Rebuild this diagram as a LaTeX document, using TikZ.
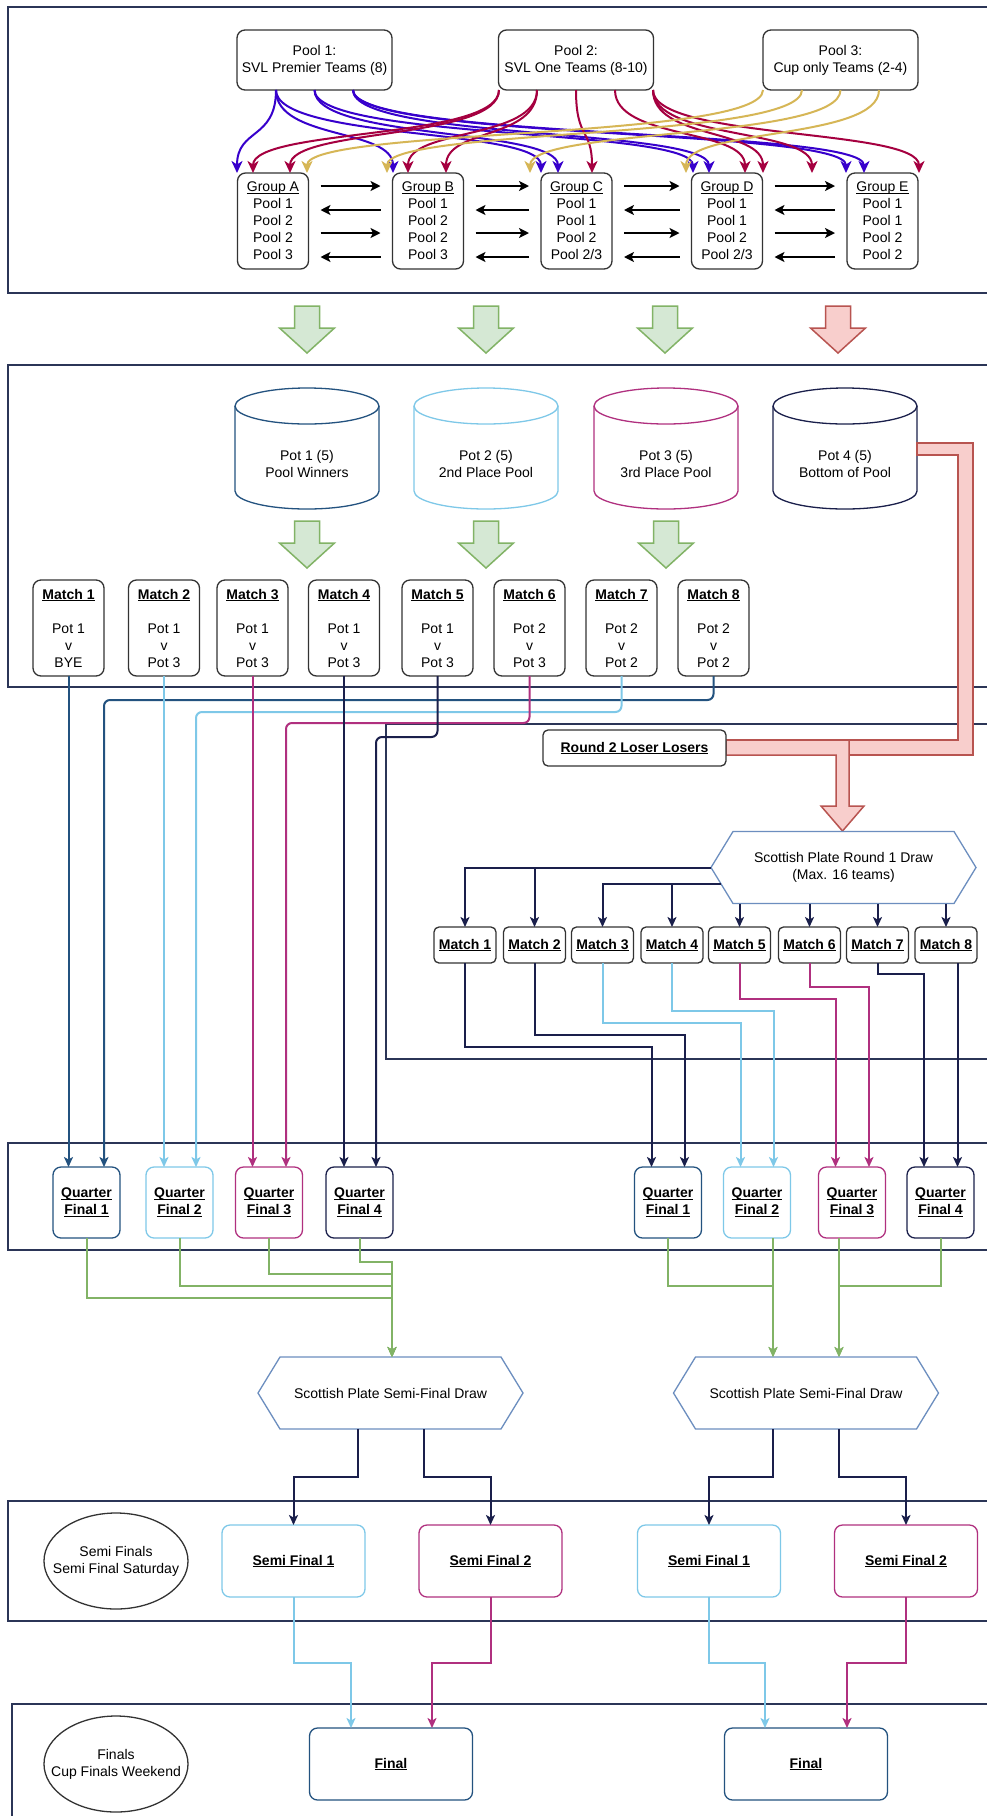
\documentclass[tikz,border=0pt]{standalone}
\usepackage{fontspec}
\setmainfont{Liberation Sans}
\usetikzlibrary{arrows.meta,calc,shapes.geometric}
\definecolor{cblue}{HTML}{3700CC}
\definecolor{cred}{HTML}{A50040}
\definecolor{cgold}{HTML}{D6B656}
\definecolor{dkblue}{HTML}{23527F}
\definecolor{ltblue}{HTML}{7EC8E8}
\definecolor{magen}{HTML}{B0307F}
\definecolor{navy}{HTML}{1A1F4B}
\definecolor{framec}{HTML}{2B3557}
\definecolor{gfill}{HTML}{D5E8D4}
\definecolor{gline}{HTML}{82B366}
\definecolor{rfill}{HTML}{F8CECC}
\definecolor{rline}{HTML}{B85450}
\definecolor{hexc}{HTML}{6C8EBF}
\definecolor{boxc}{HTML}{333333}
\newcommand\ulx[1]{\underline{\smash{#1}}\vphantom{#1}}
\begin{document}
\begin{tikzpicture}[x=1pt,y=-1pt,
  every node/.style={font=\fontsize{14}{17}\selectfont, align=center, inner sep=0pt, outer sep=0pt, text=black},
  box/.style={draw=boxc, line width=1.3pt, rounded corners=8pt, fill=white},
  pool/.style={box, minimum width=155pt, minimum height=60pt},
  grp/.style={box, minimum width=71pt, minimum height=96pt},
  umatch/.style={box, minimum width=71pt, minimum height=96pt},
  pmatch/.style={box, minimum width=62pt, minimum height=36pt, rounded corners=5pt},
  qf/.style={box, minimum width=67pt, minimum height=71pt},
  sfbox/.style={box, minimum width=143pt, minimum height=72pt},
  finbox/.style={box, draw=dkblue, minimum width=163pt, minimum height=72pt},
  hexnode/.style={minimum width=265pt, minimum height=72pt},
  hexline/.style={draw=hexc, line width=1.3pt, fill=white},
  circ/.style={ellipse, draw=boxc, line width=1.3pt, minimum width=144pt, minimum height=96pt},
  frame/.style={draw=framec, line width=1.3pt},
  curve/.style={line width=2pt, -{Stealth[length=12pt,width=11pt,inset=3.5pt]}},
  harr/.style={line width=2pt, -{Stealth[length=10pt,width=10pt,inset=2.5pt]}},
  conn/.style={line width=2pt, -{Stealth[length=10pt,width=9pt,inset=2.5pt]}},
  gconn/.style={conn, draw=gline},
  garrow/.style={draw=gline, fill=gfill, line width=1.5pt},
  rarrow/.style={draw=rline, fill=rfill, line width=1.5pt},
  blk/.pic={\path[pic actions] (-12.5,0) -- (12.5,0) -- (12.5,22) -- (27.5,22) -- (0,47) -- (-27.5,22) -- (-12.5,22) -- cycle;},
  cyl/.pic={\path[pic actions] (-72,18) -- (-72,103) arc[start angle=180,end angle=360,x radius=72pt,y radius=18pt] -- (72,18) arc[start angle=0,end angle=180,x radius=72pt,y radius=18pt] -- cycle;
            \path[pic actions] (72,18) arc[start angle=0,end angle=-180,x radius=72pt,y radius=18pt];}
]
\path[use as bounding box] (0,0) rectangle (987,1816);
\clip (0,0) rectangle (987,1816);
\fill[white] (0,0) rectangle (987,1816);

% ---------- frames ----------
\draw[frame] (8,7) rectangle (1000,293);
\draw[frame] (8,365) rectangle (1000,687);
\draw[frame] (386,724) rectangle (1000,1059);
\draw[frame] (8,1143) rectangle (1000,1250);
\draw[frame] (8,1501) rectangle (1000,1621);
\draw[frame] (12,1704) rectangle (1000,1840);

% ---------- top section ----------
\node[pool] (p1) at (314.5,60) {Pool 1:\\SVL Premier Teams (8)};
\node[pool] (p2) at (576,60) {Pool 2:\\SVL One Teams (8-10)};
\node[pool] (p3) at (840.5,60) {Pool 3:\\Cup only Teams (2-4)};

\node[grp] (ga) at (273,221) {\ulx{Group A}\\Pool 1\\Pool 2\\Pool 2\\Pool 3};
\node[grp] (gb) at (428,221) {\ulx{Group B}\\Pool 1\\Pool 2\\Pool 2\\Pool 3};
\node[grp] (gc) at (576.5,221) {\ulx{Group C}\\Pool 1\\Pool 1\\Pool 2\\Pool 2/3};
\node[grp] (gd) at (727,221) {\ulx{Group D}\\Pool 1\\Pool 1\\Pool 2\\Pool 2/3};
\node[grp] (ge) at (882.5,221) {\ulx{Group E}\\Pool 1\\Pool 1\\Pool 2\\Pool 2};

\foreach \c/\s/\sx/\t/\tx in {
  cblue/p1/-38.5/ga/-36, cblue/p1/-38.5/gb/-35, cblue/p1/-38.5/gc/-35.5,
  cblue/p1/0/gc/-18.5, cblue/p1/0/gd/-34,
  cblue/p1/38.5/gd/-18, cblue/p1/38.5/ge/-36.5, cblue/p1/38.5/ge/-18.5,
  cred/p2/-77/ga/-20, cred/p2/-77/ga/17, cred/p2/-39/gb/-20, cred/p2/-39/gb/18,
  cred/p2/0/gc/15.5, cred/p2/39/gd/18, cred/p2/77/gd/36, cred/p2/77/gd/85, cred/p2/77/ge/36.5,
  cgold/p3/-77.5/ga/34, cgold/p3/-38.5/gb/-41, cgold/p3/0/gc/-46.5, cgold/p3/38.5/gd/-41}
  \draw[curve, draw=\c, \c] ([xshift=\sx]\s.south) .. controls +(0,50) and +(0,-45) .. ([xshift=\tx]\t.north);

\foreach \l/\r in {ga/gb, gb/gc, gc/gd, gd/ge} {
  \draw[harr] ($(\l.north east)+(12,13)$) -- ($(\r.north west)+(-12,13)$);
  \draw[harr] ($(\r.north west)+(-12,37)$) -- ($(\l.north east)+(12,37)$);
  \draw[harr] ($(\l.north east)+(12,60)$) -- ($(\r.north west)+(-12,60)$);
  \draw[harr] ($(\r.north west)+(-12,84)$) -- ($(\l.north east)+(12,84)$);
}

% ---------- block arrows ----------
\pic[garrow] at (307,306) {blk};
\pic[garrow] at (486,306) {blk};
\pic[garrow] at (665,306) {blk};
\pic[rarrow] at (838,306) {blk};
\pic[garrow] at (307,521) {blk};
\pic[garrow] at (486,521) {blk};
\pic[garrow] at (666,521) {blk};

% ---------- pots ----------
\pic[draw=dkblue, fill=white, line width=1.3pt] at (307,388) {cyl};
\pic[draw=ltblue, fill=white, line width=1.3pt] at (486,388) {cyl};
\pic[draw=magen, fill=white, line width=1.3pt] at (666,388) {cyl};
\pic[draw=navy, fill=white, line width=1.3pt] at (845,388) {cyl};
\node (pot1) at (307,464) {Pot 1 (5)\\Pool Winners};
\node (pot2) at (486,464) {Pot 2 (5)\\2nd Place Pool};
\node (pot3) at (666,464) {Pot 3 (5)\\3rd Place Pool};
\node (pot4) at (845,464) {Pot 4 (5)\\Bottom of Pool};

% ---------- red pipe ----------
\path[rarrow] (917,443) -- (973,443) -- (973,755) -- (726,755) -- (726,740) -- (958,740) -- (958,455) -- (917,455) -- cycle;
\path[rarrow] (726,740) -- (849,740) -- (849,806) -- (864,806) -- (842.5,831) -- (821,806) -- (836,806) -- (836,755) -- (726,755) -- cycle;

% ---------- upper matches ----------
\node[umatch] (um1) at (68.5,628) {\textbf{\ulx{Match 1}}\\~\\Pot 1\\v\\BYE};
\node[umatch] (um2) at (164,628) {\textbf{\ulx{Match 2}}\\~\\Pot 1\\v\\Pot 3};
\node[umatch] (um3) at (252.5,628) {\textbf{\ulx{Match 3}}\\~\\Pot 1\\v\\Pot 3};
\node[umatch] (um4) at (344,628) {\textbf{\ulx{Match 4}}\\~\\Pot 1\\v\\Pot 3};
\node[umatch] (um5) at (437.5,628) {\textbf{\ulx{Match 5}}\\~\\Pot 1\\v\\Pot 3};
\node[umatch] (um6) at (529.5,628) {\textbf{\ulx{Match 6}}\\~\\Pot 2\\v\\Pot 3};
\node[umatch] (um7) at (621.5,628) {\textbf{\ulx{Match 7}}\\~\\Pot 2\\v\\Pot 2};
\node[umatch] (um8) at (713.5,628) {\textbf{\ulx{Match 8}}\\~\\Pot 2\\v\\Pot 2};

% ---------- plate round 1 ----------
\node[box, minimum width=183pt, minimum height=36pt, rounded corners=5pt] (r2) at (634.5,748) {\textbf{\ulx{Round 2 Loser Losers}}};
\node[hexnode] (hex1) at (843.5,867.5) {};
\draw[hexline] ([xshift=22]hex1.north west) -- ([xshift=-22]hex1.north east) -- (hex1.east) -- ([xshift=-22]hex1.south east) -- ([xshift=22]hex1.south west) -- (hex1.west) -- cycle;
\node (hex1text) at (hex1) {Scottish Plate Round 1 Draw\\(Max. 16 teams)};

\node[pmatch] (pm1) at (465,945) {\textbf{\ulx{Match 1}}};
\node[pmatch] (pm2) at (534.5,945) {\textbf{\ulx{Match 2}}};
\node[pmatch] (pm3) at (602.5,945) {\textbf{\ulx{Match 3}}};
\node[pmatch] (pm4) at (672,945) {\textbf{\ulx{Match 4}}};
\node[pmatch] (pm5) at (739.5,945) {\textbf{\ulx{Match 5}}};
\node[pmatch] (pm6) at (809.5,945) {\textbf{\ulx{Match 6}}};
\node[pmatch] (pm7) at (877.5,945) {\textbf{\ulx{Match 7}}};
\node[pmatch] (pm8) at (946,945) {\textbf{\ulx{Match 8}}};

\coordinate (h2) at ($(hex1.west)+(10,16.5)$);
\draw[conn, navy] (hex1.west) -| (pm1.north);
\draw[conn, navy] (hex1.west -| pm2) -- (pm2.north);
\draw[conn, navy] (h2) -| (pm3.north);
\draw[conn, navy] (h2 -| pm4) -- (pm4.north);
\foreach \m in {pm5,pm6,pm7,pm8}
  \draw[conn, navy] (\m |- hex1.south) -- (\m.north);

% ---------- quarter finals ----------
\node[qf, draw=dkblue] (ql1) at (86.5,1202.5) {\textbf{\ulx{Quarter}}\\\textbf{\ulx{Final 1}}};
\node[qf, draw=ltblue] (ql2) at (179.5,1202.5) {\textbf{\ulx{Quarter}}\\\textbf{\ulx{Final 2}}};
\node[qf, draw=magen] (ql3) at (269,1202.5) {\textbf{\ulx{Quarter}}\\\textbf{\ulx{Final 3}}};
\node[qf, draw=navy] (ql4) at (359.5,1202.5) {\textbf{\ulx{Quarter}}\\\textbf{\ulx{Final 4}}};
\node[qf, draw=dkblue] (qr1) at (668,1202.5) {\textbf{\ulx{Quarter}}\\\textbf{\ulx{Final 1}}};
\node[qf, draw=ltblue] (qr2) at (757,1202.5) {\textbf{\ulx{Quarter}}\\\textbf{\ulx{Final 2}}};
\node[qf, draw=magen] (qr3) at (852,1202.5) {\textbf{\ulx{Quarter}}\\\textbf{\ulx{Final 3}}};
\node[qf, draw=navy] (qr4) at (940.5,1202.5) {\textbf{\ulx{Quarter}}\\\textbf{\ulx{Final 4}}};

\begin{scope}[rounded corners=6pt]
\draw[conn, dkblue] (um1.south) -- (um1.south |- ql1.north);
\draw[conn, dkblue] (um8.south) -- ++(0,24) -| ([xshift=17.5]ql1.north);
\draw[conn, ltblue] (um2.south) -- (um2.south |- ql2.north);
\draw[conn, ltblue] (um7.south) -- ++(0,36) -| ([xshift=16.5]ql2.north);
\draw[conn, magen] (um3.south) -- (um3.south |- ql3.north);
\draw[conn, magen] (um6.south) -- ++(0,47) -| ([xshift=17]ql3.north);
\draw[conn, navy] (um4.south) -- (um4.south |- ql4.north);
\draw[conn, navy] (um5.south) -- ++(0,61) -| ([xshift=16.5]ql4.north);
\end{scope}

\draw[conn, navy] (pm1.south) -- ++(0,84) -| ([xshift=-16.5]qr1.north);
\draw[conn, navy] (pm2.south) -- ++(0,72) -| ([xshift=16.5]qr1.north);
\draw[conn, ltblue] (pm3.south) -- ++(0,60) -| ([xshift=-16.5]qr2.north);
\draw[conn, ltblue] (pm4.south) -- ++(0,48) -| ([xshift=16.5]qr2.north);
\draw[conn, magen] (pm5.south) -- ++(0,36) -| ([xshift=-16.5]qr3.north);
\draw[conn, magen] (pm6.south) -- ++(0,24) -| ([xshift=17]qr3.north);
\draw[conn, navy] (pm7.south) -- ++(0,11) -| ([xshift=-16.5]qr4.north);
\draw[conn, navy] ([xshift=11.5]pm8.south) -- ([xshift=17]qr4.north);

% ---------- semi-final draws ----------
\node[hexnode] (hexL) at (390.5,1393) {};
\draw[hexline] ([xshift=22]hexL.north west) -- ([xshift=-22]hexL.north east) -- (hexL.east) -- ([xshift=-22]hexL.south east) -- ([xshift=22]hexL.south west) -- (hexL.west) -- cycle;
\node (hexLtext) at (hexL) {Scottish Plate Semi-Final Draw};
\node[hexnode] (hexR) at (806,1393) {};
\draw[hexline] ([xshift=22]hexR.north west) -- ([xshift=-22]hexR.north east) -- (hexR.east) -- ([xshift=-22]hexR.south east) -- ([xshift=22]hexR.south west) -- (hexR.west) -- cycle;
\node (hexRtext) at (hexR) {Scottish Plate Semi-Final Draw};

\draw[gconn] (ql4.south) -- ++(0,24) -| ([xshift=1.5]hexL.north);
\draw[gconn] (ql3.south) -- ++(0,36) -| ([xshift=1.5]hexL.north);
\draw[gconn] (ql2.south) -- ++(0,48) -| ([xshift=1.5]hexL.north);
\draw[gconn] (ql1.south) -- ++(0,60) -| ([xshift=1.5]hexL.north);
\draw[gconn] (qr1.south) -- ++(0,48) -| ([xshift=-33]hexR.north);
\draw[gconn] ([xshift=16]qr2.south) -- ([xshift=-33]hexR.north);
\draw[gconn] ([xshift=-13]qr3.south) -- ([xshift=33]hexR.north);
\draw[gconn] (qr4.south) -- ++(0,48) -| ([xshift=33]hexR.north);

% ---------- semi finals ----------
\node[circ] (semilabel) at (116,1561) {};
\node (semitext) at (semilabel) {Semi Finals\\Semi Final Saturday};
\node[sfbox, draw=ltblue] (sf1) at (293.5,1561) {\textbf{\ulx{Semi Final 1}}};
\node[sfbox, draw=magen] (sf2) at (490.5,1561) {\textbf{\ulx{Semi Final 2}}};
\node[sfbox, draw=ltblue] (sf3) at (709,1561) {\textbf{\ulx{Semi Final 1}}};
\node[sfbox, draw=magen] (sf4) at (906,1561) {\textbf{\ulx{Semi Final 2}}};

\draw[conn, navy] ([xshift=-32.5]hexL.south) -- ++(0,48) -| (sf1.north);
\draw[conn, navy] ([xshift=33.5]hexL.south) -- ++(0,48) -| (sf2.north);
\draw[conn, navy] ([xshift=-33]hexR.south) -- ++(0,48) -| (sf3.north);
\draw[conn, navy] ([xshift=33]hexR.south) -- ++(0,48) -| (sf4.north);

% ---------- finals ----------
\node[circ] (finlabel) at (116,1764) {};
\node (fintext) at (finlabel) {Finals\\Cup Finals Weekend};
\node[finbox] (fin1) at (391,1764) {\textbf{\ulx{Final}}};
\node[finbox] (fin2) at (806,1764) {\textbf{\ulx{Final}}};

\draw[conn, ltblue] (sf1.south) -- ++(0,66) -| ([xshift=-40]fin1.north);
\draw[conn, magen] (sf2.south) -- ++(0,66) -| ([xshift=41]fin1.north);
\draw[conn, ltblue] (sf3.south) -- ++(0,66) -| ([xshift=-41]fin2.north);
\draw[conn, magen] (sf4.south) -- ++(0,66) -| ([xshift=41]fin2.north);
\end{tikzpicture}
\end{document}
